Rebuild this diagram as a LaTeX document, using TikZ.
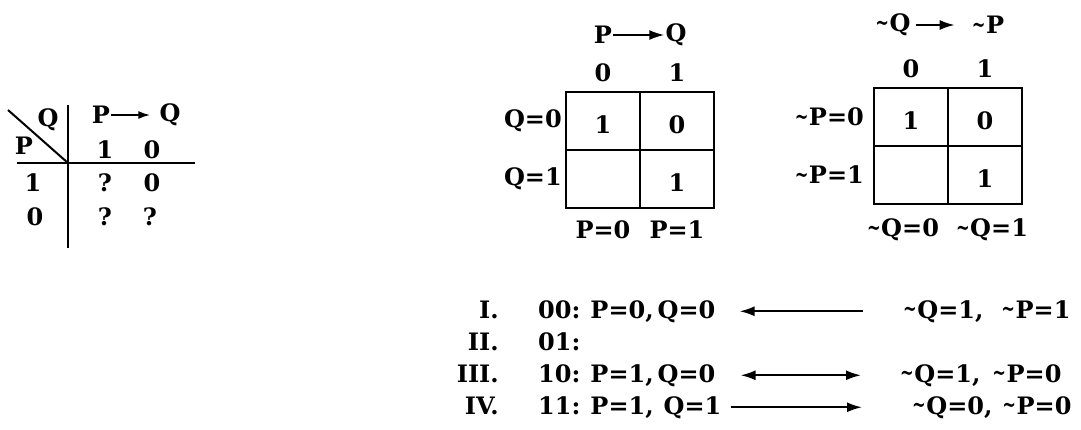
\documentclass[tikz,border=0pt]{standalone}
\usepackage{fontspec}
\setmainfont{DejaVu Serif}
\usepackage{tikz}
\usetikzlibrary{arrows.meta,positioning}

\newcommand{\nt}{\raisebox{.12ex}{\scalebox{.68}[.95]{\textasciitilde}}\kern.5pt}

\begin{document}
\begin{tikzpicture}[x=1pt, y=-1pt,
    txt/.style={font=\fontsize{24}{28}\selectfont\bfseries, inner sep=1pt},
    row/.style={font=\fontsize{24}{28}\selectfont\bfseries, inner sep=1pt, anchor=base west},
    num/.style={font=\fontsize{24}{28}\selectfont\bfseries, inner sep=1pt, anchor=base east},
    cell/.style={draw, line width=2pt, minimum width=74pt, minimum height=58pt, inner sep=0pt, text height=24pt, text depth=0pt, font=\fontsize{24}{28}\selectfont\bfseries},
    rule/.style={line width=2pt},
    imp/.style={-{Latex[length=15pt,width=10pt]}, line width=2pt},
    both/.style={{Latex[length=15pt,width=10pt]}-{Latex[length=15pt,width=10pt]}, line width=2pt}
  ]
    \useasboundingbox (0,0) rectangle (1081,429);

    % truth table
    \coordinate (ttd) at (8,110);
    \coordinate (ttx) at (68,163);
    \coordinate (ttt) at (68,105);
    \coordinate (ttb) at (68,248);
    \coordinate (ttl) at (17,163);
    \coordinate (ttr) at (195,163);
    \draw[rule] (ttd) -- (ttx);
    \draw[rule] (ttt) -- (ttb);
    \draw[rule] (ttl) -- (ttr);
    \node[txt] (ttq) at (48,120) {Q};
    \node[txt] (ttp) at (24,146) {P};
    \node[txt] (tthp) at (101,115) {P};
    \node[txt] (tthq) at (170,115) {Q};
    \draw[-{Latex[length=12pt,width=8pt]}, line width=2pt, shorten >=8pt] (tthp) -- (tthq);
    \node[txt] (ttc1) at (105,150) {1};
    \node[txt] (ttc0) at (152,150) {0};
    \node[txt] (tta1) at (33,183) {1};
    \node[txt] (tta2) at (105,183) {?};
    \node[txt] (tta3) at (152,183) {0};
    \node[txt] (ttb1) at (35,217) {0};
    \node[txt] (ttb2) at (105,217) {?};
    \node[txt] (ttb3) at (150,217) {?};

    % first map
    \node[cell] (k1a) at (603,121) {1};
    \node[cell] (k1b) at (677,121) {0};
    \node[cell] (k1c) at (603,179) {};
    \node[cell] (k1d) at (677,179) {1};
    \node[txt, above=8pt of k1a] (k1c0) {0};
    \node[txt, above=8pt of k1b] (k1c1) {1};
    \node[txt, left=2pt of k1a] (k1r0) {Q=0};
    \node[txt, left=2pt of k1c] (k1r1) {Q=1};
    \node[txt, below=10pt of k1c] (k1p0) {P=0};
    \node[txt, below=10pt of k1d] (k1p1) {P=1};
    \node[txt] (k1hp) at (603,35) {P};
    \node[txt] (k1hq) at (676,35) {Q};
    \draw[imp] (k1hp) -- (k1hq);

    % second map
    \node[cell] (k2a) at (911,117) {1};
    \node[cell] (k2b) at (985,117) {0};
    \node[cell] (k2c) at (911,175) {};
    \node[cell] (k2d) at (985,175) {1};
    \node[txt, above=8pt of k2a] (k2c0) {0};
    \node[txt, above=8pt of k2b] (k2c1) {1};
    \node[txt, left=8pt of k2a] (k2r0) {\nt P=0};
    \node[txt, left=8pt of k2c] (k2r1) {\nt P=1};
    \node[txt] (k2q0) at (903,230) {\nt Q=0};
    \node[txt] (k2q1) at (992,230) {\nt Q=1};
    \node[txt] (k2hq) at (893,25) {\nt Q};
    \node[txt] (k2hp) at (988,25) {\nt P};
    \draw[imp, shorten <=4pt, shorten >=16pt] (k2hq) -- (k2hp);

    % list of cases
    \node[num] (n1) at (500,318) {I.};
    \node[num] (n2) at (500,350) {II.};
    \node[num] (n3) at (500,382) {III.};
    \node[num] (n4) at (500,414) {IV.};
    \node[row] (r1l) at (537,318) {00:\hspace{10pt}P=0,\hspace{4pt}Q=0};
    \node[row] (r2l) at (537,350) {01:};
    \node[row] (r3l) at (537,382) {10:\hspace{10pt}P=1,\hspace{4pt}Q=0};
    \node[row] (r4l) at (537,414) {11:\hspace{10pt}P=1,\hspace{10pt}Q=1};
    \node[row] (r1r) at (902,318) {\nt Q=1,\hspace{18pt}\nt P=1};
    \node[row] (r3r) at (899,382) {\nt Q=1,\hspace{12pt}\nt P=0};
    \node[row] (r4r) at (911,414) {\nt Q=0,\hspace{10pt}\nt P=0};
    \draw[imp, shorten <=39pt, shorten >=23pt] (r1r.west) -- (r1l.east);
    \draw[both, shorten <=24pt, shorten >=38pt] (r3l.east) -- (r3r.west);
    \draw[imp, shorten <=8pt, shorten >=49pt] (r4l.east) -- (r4r.west);
\end{tikzpicture}
\end{document}
